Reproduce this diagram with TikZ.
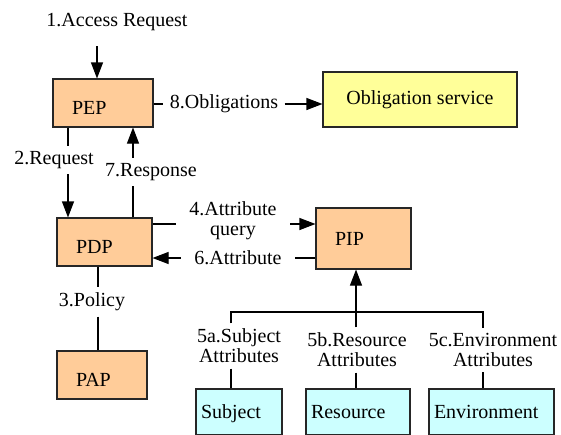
\documentclass[tikz,border=0pt]{standalone}
\usepackage{fontspec}
\setmainfont{Liberation Serif}
\usepackage{tikz}
\usetikzlibrary{arrows.meta}
\definecolor{peach}{HTML}{FFCC99}
\definecolor{lemon}{HTML}{FFFF99}
\definecolor{aqua}{HTML}{CCFFFF}

\begin{document}
\begin{tikzpicture}[x=1pt,y=-1pt,line width=1.1pt,
  font=\fontsize{20}{20}\selectfont,
  >={Triangle[length=16pt,width=12pt]},
  pbox/.style={rectangle,draw=black!85,fill=peach,minimum height=48pt,
    inner xsep=19pt,align=left,text height=23pt,text depth=0pt},
  cbox/.style={rectangle,draw=black!85,fill=aqua,minimum height=46pt,
    inner xsep=5pt,align=left,text height=13pt,text depth=0pt},
  lbl/.style={inner xsep=6pt,inner ysep=5pt,align=center}]
  \clip (0,0) rectangle (561,434);
  % boxes
  \node at (103,103) (pep) [pbox,text width=62pt] {PEP};
  \node at (104.5,242) (pdp) [pbox,text width=57pt] {PDP};
  \node at (102,375) (pap) [pbox,text width=52pt] {PAP};
  \node at (363.5,238.5) (pip) [pbox,text width=57pt,minimum height=61pt,
    text height=13pt] {PIP};
  \node at (420,99.5) (osvc) [rectangle,draw=black!85,fill=lemon,
    minimum width=194pt,minimum height=55pt] {Obligation service};
  \node at (239,412) (sub) [cbox,text width=76pt] {Subject};
  \node at (358,412) (res) [cbox,text width=94pt] {Resource};
  \node at (491.5,412) (env) [cbox,text width=115pt] {Environment};
  % labels
  \node at (117,22) (acc) [lbl] {1.Access Request};
  \node at (224,104) (obl) [lbl] {8.Obligations};
  \node at (54,160) (req) [lbl] {2.Request};
  \node at (151,172) (rsp) [lbl] {7.Response};
  \node at (233,221) (qry) [lbl,inner xsep=13pt] {4.Attribute\\query};
  \node at (238,258) (att) [lbl,inner xsep=13pt] {6.Attribute};
  \node at (92,302) (pol) [lbl] {3.Policy};
  \node at (239,346) (lsub) [lbl] {5a.Subject\\Attributes};
  \node at (357,350) (lres) [lbl] {5b.Resource\\Attributes};
  \node at (493,350) (lenv) [lbl] {5c.Environment\\Attributes};
  % helper points
  \coordinate (ax) at (97,46);
  \coordinate (qx) at (68,160);
  \coordinate (rx) at (133,172);
  \coordinate (px) at (98,302);
  \coordinate (qa) at ([yshift=18pt]pdp.east);
  \coordinate (ab) at ([yshift=-16pt]pdp.east);
  \coordinate (ba) at (231,312);
  \coordinate (bb) at (356,312);
  \coordinate (bc) at (483,312);
  % connectors
  \draw[->] (ax) -- (ax |- pep.north);
  \draw (pep.east |- obl) -- (obl.west);
  \draw[->] (obl.east) -- (obl.east -| osvc.west);
  \draw (qx |- pep.south) -- (qx |- req.north);
  \draw[->] (qx |- req.south) -- (qx |- pdp.north);
  \draw (rx |- pdp.north) -- (rx |- rsp.south);
  \draw[->] (rx |- rsp.north) -- (rx |- pep.south);
  \draw (qa) -- (qa -| qry.west);
  \draw[->] (qa -| qry.east) -- (qa -| pip.west);
  \draw (ab -| pip.west) -- (ab -| att.east);
  \draw[->] (ab -| att.west) -- (ab);
  \draw (px |- pdp.south) -- (px |- pol.north);
  \draw (px |- pol.south) -- (px |- pap.north);
  \draw (ba |- lsub.north) -- (ba) -- (bc) -- (bc |- lenv.north);
  \draw[->] (bb |- lres.north) -- (bb |- pip.south);
  \draw (ba |- lsub.south) -- (ba |- sub.north);
  \draw (bb |- lres.south) -- (bb |- res.north);
  \draw (bc |- lenv.south) -- (bc |- env.north);
\end{tikzpicture}
\end{document}
